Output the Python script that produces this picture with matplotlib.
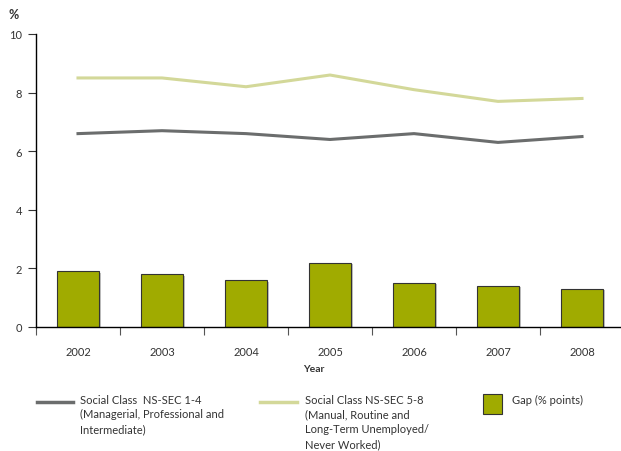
import matplotlib
matplotlib.use("Agg")
import matplotlib.pyplot as plt
import matplotlib.patheffects as pe
from matplotlib.lines import Line2D
from matplotlib.patches import Rectangle
import numpy as np

plt.rcParams['font.family'] = ['Lato', 'DejaVu Sans']

years = ["2002", "2003", "2004", "2005", "2006", "2007", "2008"]
ns_sec_1_4 = [6.6, 6.7, 6.6, 6.4, 6.6, 6.3, 6.5]
ns_sec_5_8 = [8.5, 8.5, 8.2, 8.6, 8.1, 7.7, 7.8]
gap = [1.9, 1.8, 1.6, 2.2, 1.5, 1.4, 1.3]

label_1_4 = "Social Class  NS-SEC 1-4\n(Managerial, Professional and\nIntermediate)"
label_5_8 = "Social Class NS-SEC 5-8\n(Manual, Routine and\nLong-Term Unemployed/\nNever Worked)"
label_gap = "Gap (% points)"

c_dark = "#6b6d6d"
c_light = "#d3d899"
c_bar = "#a0ab00"
txt = "#333333"

fig = plt.figure(figsize=(6.21, 4.52), dpi=100)
ax = fig.add_axes([36/621, 1-328/452, (624-36)/621, (328-35)/452])

x = np.arange(len(years))
bars = ax.bar(x, gap, width=0.5, color=c_bar, edgecolor="#333333", linewidth=0.8, zorder=2)
for b in bars:
    b.set_path_effects([pe.SimplePatchShadow(offset=(1.5, -1), shadow_rgbFace="#999999", alpha=0.6), pe.Normal()])
ax.plot(x, ns_sec_5_8, color=c_light, lw=2.2, zorder=3)
ax.plot(x, ns_sec_1_4, color=c_dark, lw=2.2, zorder=3)

ax.set_xlim(-0.5, len(years) - 0.5)
ax.set_ylim(0, 10)
ax.set_yticks([0, 2, 4, 6, 8, 10])
ax.set_yticklabels(["0", "2", "4", "6", "8", "10"])
ax.set_xticks(np.arange(len(years) + 1) - 0.5, minor=False)
ax.set_xticklabels([])
ax.set_xticks(x, minor=True)
ax.set_xticklabels(years, minor=True)
ax.tick_params(axis='x', which='major', length=6, width=0.8, color="#555555", direction='out')
ax.tick_params(axis='x', which='minor', length=0, pad=14, labelsize=8, labelcolor=txt)
ax.tick_params(axis='y', length=6, width=0.8, color="#333333", labelsize=8, labelcolor=txt, pad=4)
for s in ["top", "right"]:
    ax.spines[s].set_visible(False)
ax.spines["left"].set_linewidth(1.0)
ax.spines["bottom"].set_linewidth(1.0)

fig.text(314/621, 1-369.5/452, "Year", ha="center", va="center", fontsize=7.5, fontweight="bold", color=txt)
fig.text(14/621, 1-15/452, "%", ha="center", va="center", fontsize=9, fontweight="bold", color=txt)

# legend
fig.add_artist(Line2D([37/621, 73/621], [1-403/452]*2, color=c_dark, lw=2.5))
fig.text(80/621, 1-394.5/452, label_1_4, ha="left", va="top", fontsize=8, color=txt, linespacing=1.43)
fig.add_artist(Line2D([260/621, 297/621], [1-403/452]*2, color=c_light, lw=2.5))
fig.text(305/621, 1-394.5/452, label_5_8, ha="left", va="top", fontsize=8, color=txt, linespacing=1.43)
fig.add_artist(Rectangle((483/621, 1-415/452), 19/621, 20/452, facecolor=c_bar, edgecolor="#333333", lw=0.8, transform=fig.transFigure))
fig.text(512/621, 1-394.5/452, label_gap, ha="left", va="top", fontsize=8, color=txt)

fig.savefig("out.png", dpi=100)
